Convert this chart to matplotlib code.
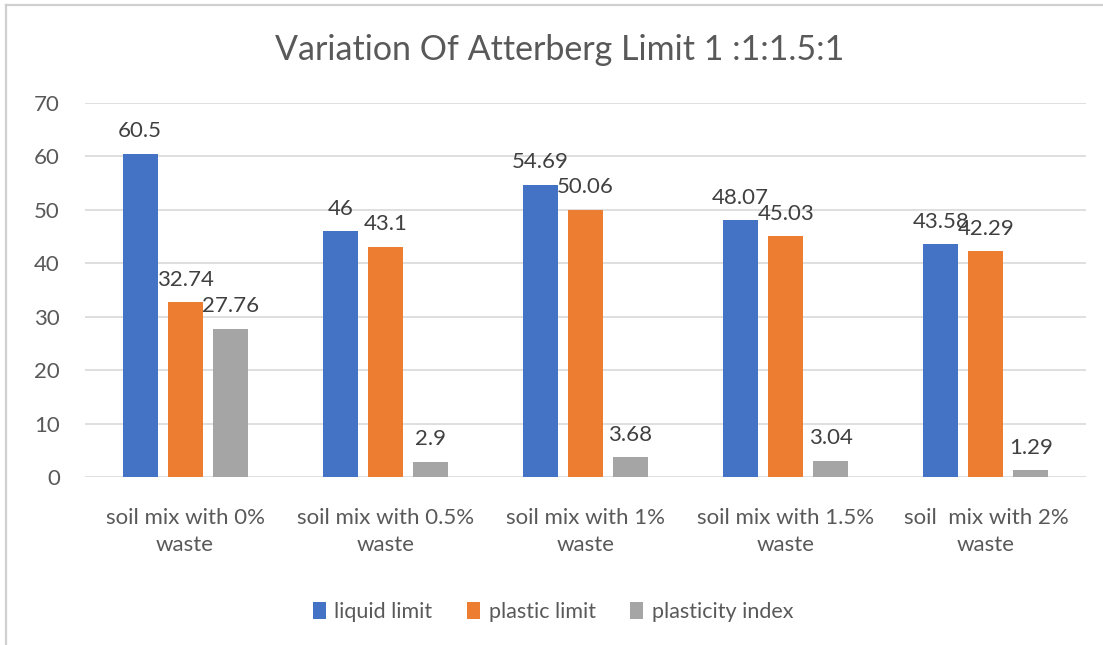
import matplotlib
matplotlib.use("Agg")
import matplotlib.pyplot as plt
from matplotlib.lines import Line2D
import numpy as np

plt.rcParams['font.family'] = ['Lato', 'DejaVu Sans']

categories = ["soil mix with 0%\nwaste", "soil mix with 0.5%\nwaste",
              "soil mix with 1%\nwaste", "soil mix with 1.5%\nwaste",
              "soil  mix with 2%\nwaste"]
liquid_limit = [60.5, 46, 54.69, 48.07, 43.58]
plastic_limit = [32.74, 43.1, 50.06, 45.03, 42.29]
plasticity_index = [27.76, 2.9, 3.68, 3.04, 1.29]
series_names = ["liquid limit", "plastic limit", "plasticity index"]
yticks = [0, 10, 20, 30, 40, 50, 60, 70]

colors = ["#4472C4", "#ED7D31", "#A5A5A5"]
axis_text = "#595959"
label_text = "#404040"

fig = plt.figure(figsize=(11.03, 6.45), dpi=100)
W, H = 1103, 645
ax = fig.add_axes([85 / W, 1 - 477 / H, (1086 - 85) / W, (477 - 103) / H])

x = np.arange(len(categories))
width = 0.175
step = 0.225
series = [liquid_limit, plastic_limit, plasticity_index]
for i, (vals, name, col) in enumerate(zip(series, series_names, colors)):
    pos = x + (i - 1) * step
    bars = ax.bar(pos, vals, width, color=col, label=name, zorder=3)
    for b, v in zip(bars, vals):
        ax.annotate(f"{v:g}", (b.get_x() + b.get_width() / 2, v),
                    xytext=(0, 9), textcoords="offset points",
                    ha="center", va="bottom", fontsize=16,
                    color=label_text, zorder=4)

ax.set_xlim(-0.5, len(categories) - 0.5)
ax.set_ylim(0, 70)
ax.set_yticks(yticks)
ax.yaxis.grid(True, color="#D9D9D9", linewidth=1.2, zorder=0)
ax.set_axisbelow(True)
for s in ax.spines.values():
    s.set_visible(False)
ax.tick_params(axis="both", length=0, colors=axis_text, labelsize=16)
ax.tick_params(axis="y", pad=18)
ax.tick_params(axis="x", pad=22)
ax.set_xticks(x)
ax.set_xticklabels(categories, linespacing=1.45)

fig.text(560 / W, 1 - 50 / H, "Variation Of Atterberg Limit 1 :1:1.5:1",
         ha="center", va="center", fontsize=24.5, color=axis_text)

leg = fig.legend(loc="center", bbox_to_anchor=(553 / W, 1 - 612 / H),
                 ncol=3, frameon=False, fontsize=15.5,
                 handlelength=0.6, handleheight=0.8, handletextpad=0.4,
                 columnspacing=1.6)
for t in leg.get_texts():
    t.set_color(axis_text)

# chart frame (left and top edges)
fig.add_artist(Line2D([5.5 / W, 5.5 / W], [0, 1 - 5 / H],
                      transform=fig.transFigure, color="#D0D0D0", linewidth=1.6))
fig.add_artist(Line2D([5.5 / W, 1], [1 - 5 / H, 1 - 5 / H],
                      transform=fig.transFigure, color="#D0D0D0", linewidth=1.6))

fig.savefig("out.png", dpi=100)
